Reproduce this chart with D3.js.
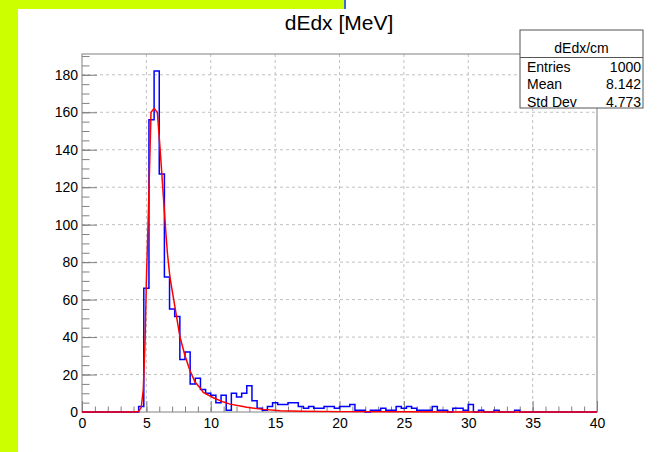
<!DOCTYPE html>
<html>
<head>
<meta charset="utf-8">
<script src="https://cdn.jsdelivr.net/npm/d3@7"></script>
<style>
  body { margin: 0; background: #fff; }
  text { font-family: "Liberation Sans", Arial, sans-serif; }
</style>
</head>
<body>
<script>
'use strict';

// histogram: 100 bins of 0.4 from 0 to 40
const binWidth = 0.4;
const counts = [
  0, 0, 0, 0, 0, 0, 0, 0, 0, 0,
  0, 3, 66, 156, 182, 127, 72, 55, 51, 28,
  32, 15, 18, 12, 10, 9, 5, 9, 1, 10,
  8, 10, 14, 6, 2, 1, 3, 5, 4, 4,
  5, 5, 3, 2, 3, 2, 2, 3, 3, 2,
  3, 3, 4, 1, 1, 0, 1, 1, 2, 1,
  1, 3, 2, 3, 2, 1, 1, 1, 3, 1,
  1, 0, 2, 2, 1, 4, 0, 1, 0, 0,
  1, 0, 0, 0, 1, 0, 0, 0, 0, 0,
  0, 0, 0, 0, 0, 0, 0, 0, 0, 0
];

// fitted curve
const fitX = [0, 4.0, 4.4, 4.6, 4.76, 4.9, 5.0, 5.15, 5.36, 5.6, 5.85, 6.06, 6.32, 6.5, 6.63, 6.83,
  7.22, 7.61, 8.0, 8.39, 8.78, 9.16, 9.42, 10.2, 11.0, 11.5, 12.3, 12.8, 14.1, 15.4, 17, 20, 25, 30, 40];
const fitY = [0, 0, 0.3, 2.5, 12, 38, 70, 105, 160, 162, 160, 141, 115, 97, 85, 72,
  56, 40, 30, 22, 16, 13, 10.5, 7.6, 5.3, 4.2, 3.2, 2.5, 1.4, 0.7, 0.4, 0.2, 0.1, 0.05, 0];

const xTicks = [0, 5, 10, 15, 20, 25, 30, 35, 40];
const xMinor = d3.range(0, 41, 1);
const yTicks = [0, 20, 40, 60, 80, 100, 120, 140, 160, 180];
const yMinor = d3.range(0, 191, 5);

const statsTitle = "dEdx/cm";
const statsNames = ["Entries", "Mean", "Std Dev"];
const statsValues = ["1000", "8.142", "4.773"];

const svg = d3.select('body').append('svg')
  .attr('width', 669)
  .attr('height', 452);

// canvas edge strips
svg.append('rect').attr('x', 0).attr('y', 0).attr('width', 669).attr('height', 452).attr('fill', '#fff');
svg.append('rect').attr('x', 0).attr('y', 0).attr('width', 345).attr('height', 9).attr('fill', '#ccff00');
svg.append('rect').attr('x', 0).attr('y', 0).attr('width', 18).attr('height', 452).attr('fill', '#ccff00');
svg.append('line').attr('x1', 345).attr('x2', 345).attr('y1', 0).attr('y2', 9)
  .attr('stroke', '#3a6fd0').attr('stroke-width', 2);

const x = d3.scaleLinear().domain([0, 40]).range([82, 597]);
const y = d3.scaleLinear().domain([0, 191.1]).range([412, 54]);

// grid
svg.append('g').selectAll('line')
  .data(xTicks.slice(1, -1))
  .enter().append('line')
    .attr('x1', d => x(d)).attr('x2', d => x(d))
    .attr('y1', 54).attr('y2', 412)
    .attr('stroke', '#c0c0c0').attr('stroke-dasharray', '3,3');
svg.append('g').selectAll('line')
  .data(yTicks.slice(1))
  .enter().append('line')
    .attr('x1', 82).attr('x2', 597)
    .attr('y1', d => y(d)).attr('y2', d => y(d))
    .attr('stroke', '#c0c0c0').attr('stroke-dasharray', '3,3');

// axes: ticks point into the frame
let xMinorAxis = d3.axisBottom(x).tickValues(xMinor).tickSize(-5.5).tickFormat('');
let xAxis = d3.axisBottom(x).tickValues(xTicks).tickSize(-11).tickPadding(6);
let yMinorAxis = d3.axisLeft(y).tickValues(yMinor).tickSize(-7.5).tickFormat('');
let yAxis = d3.axisLeft(y).tickValues(yTicks).tickSize(-15).tickPadding(4);

[xMinorAxis, xAxis].forEach(a => {
  svg.append('g').attr('transform', 'translate(0,412)').call(a);
});
[yMinorAxis, yAxis].forEach(a => {
  svg.append('g').attr('transform', 'translate(82,0)').call(a);
});
svg.selectAll('.domain').remove();
svg.selectAll('.tick line').attr('stroke', '#808080');
svg.selectAll('.tick text').attr('fill', '#000')
  .style('font-size', '14px')
  .style('font-family', '"Liberation Sans", Arial, sans-serif');

// frame
svg.append('rect')
  .attr('x', 82).attr('y', 54)
  .attr('width', 597 - 82).attr('height', 412 - 54)
  .attr('fill', 'none').attr('stroke', '#808080');

// histogram outline
let histPts = counts.map((c, i) => [i * binWidth, c]);
histPts.push([40, counts[counts.length - 1]]);
let stepLine = d3.line()
  .x(d => x(d[0]))
  .y(d => y(d[1]))
  .curve(d3.curveStepAfter);
svg.append('path')
  .attr('d', stepLine(histPts))
  .attr('fill', 'none')
  .attr('stroke', '#0000ff')
  .attr('stroke-width', 1.5);

// fit curve
let fitLine = d3.line()
  .x((d, i) => x(fitX[i]))
  .y(d => y(d));
svg.append('path')
  .attr('d', fitLine(fitY))
  .attr('fill', 'none')
  .attr('stroke', '#ff0000')
  .attr('stroke-width', 1.5);

// title
svg.append('text')
  .attr('x', 339).attr('y', 30)
  .attr('text-anchor', 'middle')
  .style('font-size', '21px')
  .text('dEdx [MeV]');

// stats box
let box = svg.append('g');
box.append('rect')
  .attr('x', 520).attr('y', 30).attr('width', 123).attr('height', 78)
  .attr('fill', '#fff').attr('stroke', '#555');
box.append('line')
  .attr('x1', 520).attr('x2', 643).attr('y1', 57.5).attr('y2', 57.5)
  .attr('stroke', '#555');
box.append('text')
  .attr('x', 581.5).attr('y', 52.5)
  .attr('text-anchor', 'middle')
  .style('font-size', '14px')
  .text(statsTitle);
statsNames.forEach((n, i) => {
  box.append('text')
    .attr('x', 527).attr('y', 71.5 + i * 17.5)
    .style('font-size', '14px')
    .text(n);
  box.append('text')
    .attr('x', 641).attr('y', 71.5 + i * 17.5)
    .attr('text-anchor', 'end')
    .style('font-size', '14px')
    .text(statsValues[i]);
});
</script>
</body>
</html>
